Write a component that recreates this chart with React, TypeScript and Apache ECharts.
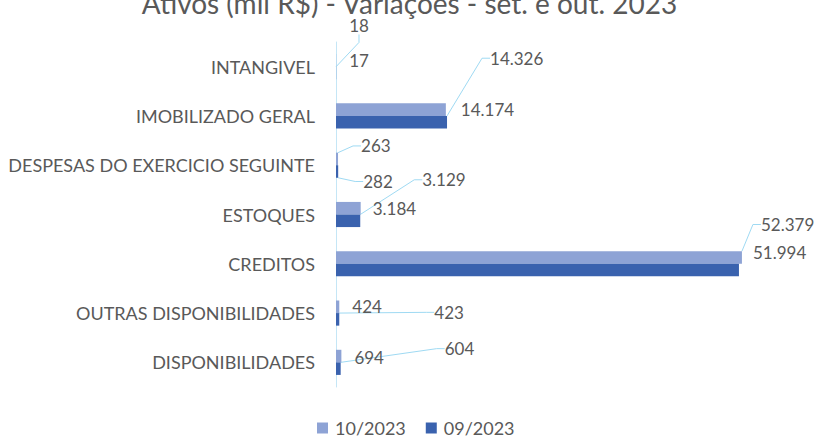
import React, { useEffect, useRef } from "react";
import * as echarts from "echarts";

const categories = [
  "INTANGIVEL",
  "IMOBILIZADO GERAL",
  "DESPESAS DO EXERCICIO SEGUINTE",
  "ESTOQUES",
  "CREDITOS",
  "OUTRAS DISPONIBILIDADES",
  "DISPONIBILIDADES",
];
const seriesNames = ["10/2023", "09/2023"];
const values1023 = [17, 14174, 263, 3184, 52379, 424, 694];
const values0923 = [18, 14326, 282, 3129, 51994, 423, 604];

// label placement (layout only): [dx, dy] offsets from default right position
const lightOffsets = [[8, 0], [10, 0], [18, -13], [7, 0], [14, -33], [8, 0], [8, 1]];
const darkOffsets = [[8, -47], [38, -64], [20, 10], [57, -41], [9, -18], [90, -7], [99, -20]];
const lightLeaders = [2, 4];
const darkLeaders = [0, 1, 2, 3, 5, 6];

const LIGHT = "#8EA3D5";
const DARK = "#3A62AE";
const TEXT = "#595959";
const FONT = "Lato";

const fmt = (v: number) => String(v).replace(/\B(?=(\d{3})+(?!\d))/g, ".");

export default function App() {
  const ref = useRef<HTMLDivElement>(null);
  useEffect(() => {
    if (!ref.current) return;
    const chart = echarts.init(ref.current, null, { renderer: "svg" });
    const mkData = (vals: number[], leaders: number[]) =>
      vals.map((v, i) => ({ value: v, labelLine: { show: leaders.includes(i) } }));
    const labelCfg = {
      show: true,
      position: "right",
      distance: 5,
      fontFamily: FONT,
      fontSize: 17,
      color: TEXT,
      formatter: (p: any) => fmt(p.value),
    };
    chart.setOption({
      animation: false,
      title: {
        text: "Ativos (mil R$) - Variações - set. e out. 2023",
        left: "center",
        top: -16,
        textStyle: { fontFamily: FONT, fontSize: 28, fontWeight: "normal", color: TEXT },
      },
      legend: {
        data: seriesNames,
        bottom: -2,
        left: 312,
        itemWidth: 11,
        itemHeight: 11,
        itemGap: 20,
        icon: "rect",
        textStyle: { fontFamily: FONT, fontSize: 18, color: TEXT, padding: [0, 0, 0, 2] },
      },
      grid: { left: 336, right: 18, top: 42, bottom: 53, containLabel: false },
      xAxis: { type: "value", min: 0, max: 60000, show: false },
      yAxis: {
        type: "category",
        inverse: true,
        data: categories,
        axisLine: { show: true, lineStyle: { color: "#C5E6F6", width: 1 } },
        axisTick: { show: false },
        axisLabel: { margin: 21, fontFamily: FONT, fontSize: 18, color: TEXT },
      },
      series: [
        {
          name: seriesNames[0],
          type: "bar",
          data: mkData(values1023, lightLeaders),
          itemStyle: { color: LIGHT },
          barGap: "0%",
          barCategoryGap: "49%",
          label: labelCfg,
          labelLine: { show: false, length2: 8, lineStyle: { color: "#9FDAF3", width: 1 } },
          labelLayout: (p: any) => ({ dx: lightOffsets[p.dataIndex][0], dy: lightOffsets[p.dataIndex][1] }),
        },
        {
          name: seriesNames[1],
          type: "bar",
          data: mkData(values0923, darkLeaders),
          itemStyle: { color: DARK },
          barGap: "0%",
          barCategoryGap: "49%",
          label: labelCfg,
          labelLine: { show: false, length2: 8, lineStyle: { color: "#9FDAF3", width: 1 } },
          labelLayout: (p: any) => ({ dx: darkOffsets[p.dataIndex][0], dy: darkOffsets[p.dataIndex][1] }),
        },
      ],
    });
    return () => chart.dispose();
  }, []);
  return (
    <div
      ref={ref}
      style={{ position: "fixed", left: 0, top: 0, width: 819, height: 440, background: "#fff" }}
    />
  );
}
